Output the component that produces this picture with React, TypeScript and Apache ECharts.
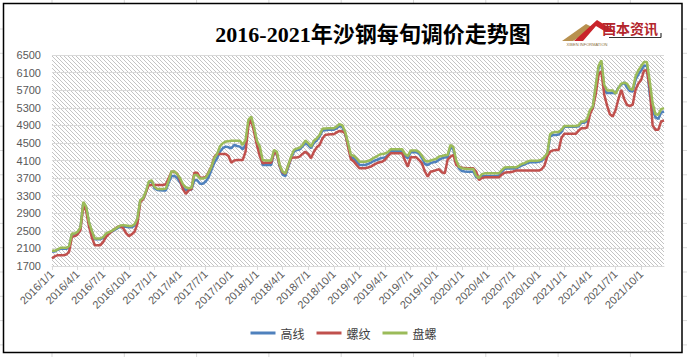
import React, { useEffect, useRef } from 'react';
import * as echarts from 'echarts';

const YEARS = [2016, 2017, 2018, 2019, 2020, 2021];
const DAYS = [1, 11, 21];
const categories: string[] = [];
YEARS.forEach((y) => {
  for (let m = 1; m <= 12; m++) DAYS.forEach((d) => categories.push(`${y}/${m}/${d}`));
});

const seriesNames = ['高线', '螺纹', '盘螺'];
const seriesColors = ['#4f81bd', '#c0504d', '#9bbb59'];

// 高线
const gaoxian = [
  2030, 2030, 2070, 2090, 2090, 2090, 2130, 2420, 2420, 2460,
  2560, 3140, 3030, 2680, 2480, 2310, 2310, 2310, 2340, 2420,
  2450, 2480, 2520, 2560, 2590, 2600, 2590, 2580, 2580, 2620,
  2750, 3180, 3220, 3380, 3600, 3630,
  3470, 3430, 3425, 3420, 3420, 3600, 3747, 3747, 3700, 3600,
  3480, 3430, 3430, 3440, 3650, 3650, 3570, 3570, 3620, 3720,
  3880, 4050, 4150, 4300, 4380, 4416, 4400, 4378, 4454, 4430,
  4416, 4356, 4450, 4950, 5060, 4800,
  4500, 4300, 4000, 4000, 4000, 4000, 4300, 4250, 3960, 3780,
  3747, 3950, 4150, 4300, 4340, 4350, 4420, 4500, 4450, 4380,
  4500, 4560, 4640, 4780, 4790, 4800, 4800, 4800, 4830, 4890,
  4860, 4700, 4450, 4172, 4150, 4080,
  3997, 3997, 3997, 4020, 4050, 4090, 4110, 4140, 4160, 4170,
  4220, 4310, 4310, 4310, 4310, 4310, 4200, 4150, 4290, 4290,
  4290, 4250, 4150, 4020, 3997, 4040, 4060, 4073, 4120, 4150,
  4170, 4180, 4416, 4350, 4050, 3922,
  3860, 3850, 3845, 3845, 3845, 3720, 3693, 3740, 3750, 3750,
  3750, 3750, 3750, 3760, 3840, 3910, 3920, 3920, 3920, 3920,
  3950, 3990, 4010, 4040, 4060, 4060, 4060, 4070, 4090, 4150,
  4230, 4650, 4680, 4682, 4690, 4750,
  4870, 4870, 4870, 4870, 4870, 4880, 4960, 4960, 5000, 5200,
  5300, 5750, 6200, 6350, 5700, 5633, 5633, 5633, 5630, 5760,
  5822, 5877, 5760, 5680, 5670, 5936, 6060, 6150, 6255, 6255,
  5600, 5250, 5080, 5046, 5190, 5215,
];

// 螺纹
const luowen = [
  1870, 1920, 1946, 1946, 1946, 1960, 2022, 2364, 2380, 2420,
  2520, 3086, 2950, 2600, 2350, 2174, 2174, 2174, 2250, 2364,
  2430, 2490, 2540, 2590, 2607, 2560, 2450, 2380, 2420, 2480,
  2660, 3150, 3220, 3380, 3540, 3542,
  3542, 3542, 3542, 3542, 3560, 3700, 3846, 3846, 3800, 3650,
  3450, 3340, 3420, 3450, 3820, 3823, 3710, 3710, 3723, 3830,
  3960, 4180, 4249, 4249, 4249, 4249, 4200, 4051, 4100, 4112,
  4112, 4112, 4300, 4900, 5024, 4750,
  4450, 4200, 4036, 4050, 4050, 4050, 4280, 4250, 3970, 3830,
  3800, 3980, 4150, 4170, 4170, 4188, 4250, 4300, 4250, 4150,
  4300, 4400, 4454, 4600, 4682, 4690, 4698, 4698, 4740, 4773,
  4760, 4720, 4416, 4127, 4080, 4000,
  3922, 3922, 3922, 3940, 3960, 4000, 4036, 4060, 4073, 4120,
  4200, 4264, 4264, 4264, 4264, 4264, 4100, 3960, 4172, 4172,
  4172, 4110, 4030, 3850, 3731, 3846, 3860, 3880, 3900, 3830,
  3808, 4120, 4188, 4226, 4000, 3960,
  3937, 3930, 3922, 3922, 3922, 3850, 3656, 3700, 3717, 3717,
  3717, 3717, 3717, 3717, 3780, 3820, 3832, 3832, 3850, 3870,
  3870, 3870, 3870, 3870, 3870, 3870, 3870, 3870, 3900, 3980,
  4200, 4300, 4330, 4340, 4340, 4620,
  4706, 4706, 4706, 4706, 4706, 4780, 4835, 4835, 4850, 5150,
  5300, 5600, 6050, 6130, 5600, 5350, 5150, 5100, 5250, 5500,
  5708, 5500, 5366, 5340, 5370, 5708, 5850, 5936, 6148, 6148,
  5750, 4900, 4800, 4797, 4990, 5010,
];

// 盘螺
const panluo = [
  2045, 2045, 2080, 2113, 2113, 2113, 2150, 2440, 2440, 2480,
  2580, 3160, 3050, 2700, 2500, 2326, 2326, 2326, 2360, 2440,
  2470, 2500, 2540, 2580, 2620, 2630, 2620, 2610, 2610, 2650,
  2780, 3200, 3240, 3400, 3620, 3650,
  3500, 3450, 3450, 3450, 3460, 3650, 3850, 3850, 3790, 3695,
  3560, 3490, 3470, 3480, 3770, 3770, 3690, 3690, 3710, 3820,
  3960, 4150, 4250, 4420, 4493, 4530, 4540, 4550, 4552, 4552,
  4552, 4454, 4568, 5024, 5100, 4850,
  4550, 4416, 4112, 4100, 4100, 4100, 4340, 4300, 4000, 3850,
  3808, 4000, 4188, 4340, 4370, 4390, 4450, 4553, 4500, 4416,
  4550, 4600, 4682, 4820, 4830, 4834, 4834, 4834, 4872, 4930,
  4900, 4750, 4500, 4226, 4210, 4150,
  4073, 4073, 4073, 4090, 4110, 4160, 4190, 4230, 4250, 4260,
  4290, 4356, 4356, 4356, 4356, 4356, 4250, 4200, 4325, 4325,
  4325, 4290, 4200, 4100, 4073, 4100, 4120, 4140, 4190, 4203,
  4220, 4226, 4454, 4400, 4100, 3960,
  3922, 3915, 3910, 3906, 3906, 3750, 3700, 3790, 3808, 3808,
  3808, 3808, 3808, 3808, 3880, 3940, 3946, 3946, 3946, 3946,
  3980, 4020, 4040, 4075, 4097, 4097, 4097, 4100, 4120, 4180,
  4265, 4700, 4740, 4750, 4750, 4800,
  4887, 4887, 4887, 4887, 4887, 4900, 4985, 4985, 5050, 5250,
  5330, 5800, 6250, 6380, 5822, 5692, 5692, 5692, 5620, 5750,
  5850, 5870, 5850, 5730, 5710, 6013, 6150, 6250, 6340, 6340,
  5900, 5400, 5150, 5140, 5268, 5291,
];

const Y_MIN = 1700;
const Y_MAX = 6500;
const Y_STEP = 400;

const TITLE = '2016-2021年沙钢每旬调价走势图';

function makeHatch(): HTMLCanvasElement {
  const c = document.createElement('canvas');
  c.width = 4;
  c.height = 4;
  const ctx = c.getContext('2d')!;
  ctx.fillStyle = '#ffffff';
  ctx.fillRect(0, 0, 4, 4);
  ctx.fillStyle = '#c4c4c4';
  for (let k = 0; k < 4; k++) ctx.fillRect(k, k, 1, 1);
  return c;
}

export default function App() {
  const ref = useRef<HTMLDivElement>(null);
  useEffect(() => {
    if (!ref.current) return;
    const chart = echarts.init(ref.current, undefined, { renderer: 'svg' });
    const font = '"Liberation Sans", Arial, sans-serif';
    const cellLines: any[] = [];
    const colXs = [52, 124.3, 196.6, 268.9, 341.2, 413.5, 485.8, 558.1, 630.4];
    colXs.forEach((x) => {
      cellLines.push({ type: 'line', shape: { x1: x, y1: 0, x2: x, y2: 3 }, style: { stroke: '#d9d9d9', lineWidth: 1 }, silent: true });
      cellLines.push({ type: 'line', shape: { x1: x, y1: 353, x2: x, y2: 357 }, style: { stroke: '#d9d9d9', lineWidth: 1 }, silent: true });
    });
    const rowYs = [29, 53.3, 77.6, 101.9, 126.2, 150.5, 174.8, 199.1, 223.4, 247.7, 272, 296.3, 320.6, 344.9];
    rowYs.forEach((y) => {
      cellLines.push({ type: 'line', shape: { x1: 0, y1: y, x2: 3, y2: y }, style: { stroke: '#d9d9d9', lineWidth: 1 }, silent: true });
      cellLines.push({ type: 'line', shape: { x1: 683, y1: y, x2: 687, y2: y }, style: { stroke: '#d9d9d9', lineWidth: 1 }, silent: true });
    });

    const option: any = {
      animation: false,
      backgroundColor: '#ffffff',
      title: {
        text: TITLE,
        left: 368,
        top: 18,
        textAlign: 'center',
        textStyle: {
          fontSize: 22,
          fontWeight: 'bold',
          color: '#000000',
          fontFamily: '"Liberation Serif", "Noto Sans CJK SC", serif',
        },
      },
      legend: {
        data: seriesNames.map((n) => ({ name: n, icon: 'rect' })),
        left: 'center',
        top: 322,
        itemWidth: 25,
        itemHeight: 3,
        itemGap: 12,
        textStyle: { fontSize: 12, color: '#404040', fontFamily: '"Noto Sans CJK SC", sans-serif' },
      },
      grid: {
        left: 52,
        right: 23,
        top: 55,
        bottom: 91,
        show: true,
        borderWidth: 0,
        backgroundColor: { image: makeHatch(), repeat: 'repeat' },
      },
      xAxis: {
        type: 'category',
        data: categories,
        boundaryGap: false,
        axisLine: { lineStyle: { color: '#d9d9d9', width: 1 } },
        axisTick: { interval: 8, length: 4, lineStyle: { color: '#d9d9d9' } },
        axisLabel: { interval: 8, rotate: 45, fontSize: 11, color: '#595959', margin: 6, fontFamily: font },
        splitLine: { show: false },
      },
      yAxis: {
        type: 'value',
        min: Y_MIN,
        max: Y_MAX,
        interval: Y_STEP,
        axisLine: { show: false },
        axisTick: { show: false },
        splitLine: { lineStyle: { color: '#d9d9d9', width: 1 } },
        axisLabel: {
          fontSize: 11,
          color: '#595959',
          margin: 11,
          fontFamily: font,
          formatter: (v: number) => String(v),
        },
      },
      series: [gaoxian, luowen, panluo].map((d, i) => ({
        name: seriesNames[i],
        type: 'line',
        data: d,
        symbol: 'none',
        showSymbol: false,
        color: seriesColors[i],
        itemStyle: { color: seriesColors[i] },
        lineStyle: { color: seriesColors[i], width: 2.5 },
      })),
      graphic: [
        ...cellLines,
        { type: 'rect', shape: { x: 3.5, y: 3.5, width: 678.5, height: 349 }, style: { fill: 'none', stroke: '#000000', lineWidth: 1.5 }, silent: true, z: 100 },
        { type: 'polygon', shape: { points: [[562, 41], [586, 24], [594, 28], [573, 41]] }, style: { fill: '#b8914f' }, silent: true },
        { type: 'polygon', shape: { points: [[574, 41], [597, 20], [616, 32], [606, 32], [596, 26], [583, 41]] }, style: { fill: '#c9242b' }, silent: true },
        { type: 'text', x: 630, y: 28, style: { text: '西本资讯', fill: '#b3262c', fontSize: 14, fontWeight: 'bold', fontFamily: '"Noto Sans CJK SC", sans-serif', align: 'center', verticalAlign: 'middle' }, silent: true },
        { type: 'line', shape: { x1: 609, y1: 37.5, x2: 661, y2: 37.5 }, style: { stroke: '#333333', lineWidth: 1.2 }, silent: true },
        { type: 'line', shape: { x1: 661, y1: 33, x2: 661, y2: 37.5 }, style: { stroke: '#333333', lineWidth: 1.2 }, silent: true },
        { type: 'text', x: 587, y: 44, style: { text: 'XIBEN INFORMATION', fill: '#8a6d3b', fontSize: 4, fontFamily: font, align: 'center', verticalAlign: 'middle' }, silent: true },
      ],
    };
    chart.setOption(option);
    return () => chart.dispose();
  }, []);
  return <div ref={ref} style={{ position: 'fixed', left: 0, top: 0, width: 687, height: 357 }} />;
}
